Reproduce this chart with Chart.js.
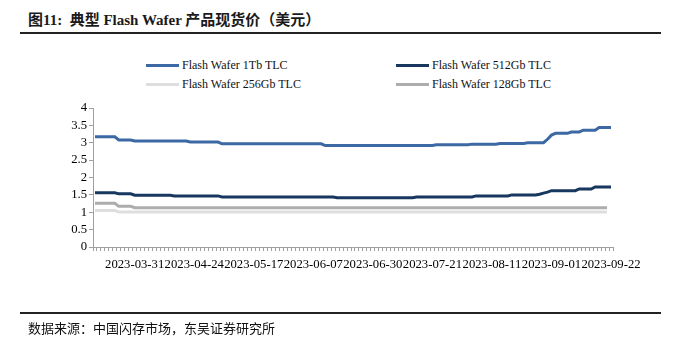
<!DOCTYPE html>
<html>
<head>
<meta charset="utf-8">
<script src="https://cdn.jsdelivr.net/npm/chart.js@4.4.0/dist/chart.umd.min.js"></script>
<style>
  html, body { margin: 0; padding: 0; background: #fff; }
  #wrap { position: relative; width: 675px; height: 343px; overflow: hidden; }
  #c { position: absolute; left: 0; top: 0; }
  .title { position: absolute; left: 28px; top: 8px; font: bold 15px "Liberation Serif", "Noto Sans CJK SC"; color: #1a1a1a; white-space: nowrap; }
  .rule { position: absolute; left: 20px; width: 641px; height: 2px; background: #222; }
  .src { position: absolute; left: 28px; top: 318px; font: 13px "Noto Sans CJK SC"; color: #111; white-space: nowrap; }
  .lg { position: absolute; font: 12px "Liberation Serif"; color: #111; white-space: nowrap; }
  .lg i { display: inline-block; width: 33px; height: 3px; vertical-align: middle; margin-right: 3px; position: relative; top: -1px; }
</style>
</head>
<body>
<div id="wrap">
  <div class="title">图11:&nbsp; 典型 Flash Wafer 产品现货价（美元）</div>
  <div class="rule" style="top:32px"></div>
  <div class="lg" style="left:146px; top:58px"><i style="background:#3C68A4"></i>Flash Wafer 1Tb TLC</div>
  <div class="lg" style="left:396px; top:58px"><i style="background:#17375E"></i>Flash Wafer 512Gb TLC</div>
  <div class="lg" style="left:146px; top:77px"><i style="background:#DEDEDE"></i>Flash Wafer 256Gb TLC</div>
  <div class="lg" style="left:396px; top:77px"><i style="background:#ADADAD"></i>Flash Wafer 128Gb TLC</div>
  <canvas id="c" width="675" height="343"></canvas>
  <div class="rule" style="top:312px"></div>
  <div class="src">数据来源：中国闪存市场，东吴证券研究所</div>
</div>
<script>
// trading days 2023-03-17 .. 2023-09-22 (China holidays off, 05-06 make-up day on)
var startDay = '2023-03-17';
var endDay = '2023-09-22';
var holidays = ['2023-04-05', '2023-05-01', '2023-05-02', '2023-05-03', '2023-06-22', '2023-06-23'];
var extraDays = ['2023-05-06'];

var days = [];
var d = new Date(startDay + 'T00:00:00Z');
var stop = new Date(endDay + 'T00:00:00Z');
while (d <= stop) {
	var s = d.toISOString().slice(0, 10);
	var wd = d.getUTCDay();
	if ((wd > 0 && wd < 6 && holidays.indexOf(s) < 0) || extraDays.indexOf(s) >= 0) days.push(s);
	d.setUTCDate(d.getUTCDate() + 1);
}

var yTicks = [0, 0.5, 1, 1.5, 2, 2.5, 3, 3.5, 4];

var tb1 = [
	3.17,3.17,3.17,3.17,3.17,3.17,
	3.08,3.08,3.08,3.08,
	3.05,3.05,3.05,3.05,3.05,3.05,3.05,3.05,3.05,3.05,3.05,3.05,3.05,3.05,
	3.02,3.02,3.02,3.02,3.02,3.02,3.02,3.02,
	2.97,2.97,2.97,2.97,2.97,2.97,2.97,2.97,2.97,2.97,2.97,2.97,2.97,2.97,2.97,2.97,2.97,2.97,2.97,2.97,2.97,2.97,2.97,2.97,2.97,2.97,
	2.92,2.92,2.92,2.92,2.92,2.92,2.92,2.92,2.92,2.92,2.92,2.92,2.92,2.92,2.92,2.92,2.92,2.92,2.92,2.92,2.92,2.92,2.92,2.92,2.92,2.92,2.92,2.92,
	2.94,2.94,2.94,2.94,2.94,2.94,2.94,2.94,2.94,
	2.96,2.96,2.96,2.96,2.96,2.96,2.96,
	2.98,2.98,2.98,2.98,2.98,2.98,2.98,
	3.00,3.00,3.00,3.00,3.00,
	3.10,3.22,
	3.27,3.27,3.27,3.27,
	3.31,3.31,3.31,
	3.36,3.36,3.36,3.36,
	3.44,3.44,3.44,3.44
];
var gb512 = [
	1.56,1.56,1.56,1.56,1.56,1.56,
	1.53,1.53,1.53,1.53,
	1.49,1.49,1.49,1.49,1.49,1.49,1.49,1.49,1.49,1.49,
	1.47,1.47,1.47,1.47,1.47,1.47,1.47,1.47,1.47,1.47,1.47,1.47,
	1.44,1.44,1.44,1.44,1.44,1.44,1.44,1.44,1.44,1.44,1.44,1.44,1.44,1.44,1.44,1.44,1.44,1.44,1.44,1.44,1.44,1.44,1.44,1.44,1.44,1.44,1.44,1.44,1.44,
	1.42,1.42,1.42,1.42,1.42,1.42,1.42,1.42,1.42,1.42,1.42,1.42,1.42,1.42,1.42,1.42,1.42,1.42,1.42,1.42,
	1.44,1.44,1.44,1.44,1.44,1.44,1.44,1.44,1.44,1.44,1.44,1.44,1.44,1.44,1.44,
	1.47,1.47,1.47,1.47,1.47,1.47,1.47,1.47,1.47,
	1.50,1.50,1.50,1.50,1.50,1.50,1.50,
	1.52,1.55,1.58,
	1.62,1.62,1.62,1.62,1.62,1.62,1.62,
	1.67,1.67,1.67,1.67,
	1.73,1.73,1.73,1.73,1.73
];
var gb256 = [
	1.05,1.05,1.05,1.05,1.05,1.05,
	1.01,1.01,1.01,1.01,1.01,1.01,1.01,1.01,1.01,1.01,1.01,1.01,1.01,1.01,1.01,1.01,1.01,1.01,1.01,1.01,1.01,1.01,1.01,1.01,
	1.01,1.01,1.01,1.01,1.01,1.01,1.01,1.01,1.01,1.01,1.01,1.01,1.01,1.01,1.01,1.01,1.01,1.01,1.01,1.01,1.01,1.01,1.01,1.01,1.01,
	1.01,1.01,1.01,1.01,1.01,1.01,1.01,1.01,1.01,1.01,1.01,1.01,1.01,1.01,1.01,1.01,1.01,1.01,1.01,1.01,1.01,1.01,1.01,1.01,1.01,
	1.01,1.01,1.01,1.01,1.01,1.01,1.01,1.01,1.01,1.01,1.01,1.01,1.01,1.01,1.01,1.01,1.01,1.01,1.01,1.01,1.01,1.01,1.01,1.01,1.01,
	1.01,1.01,1.01,1.01,1.01,1.01,1.01,1.01,1.01,1.01,1.01,1.01,1.01,1.01,1.01,1.01,1.01,1.01,1.01,1.01,1.01,1.01,1.01,1.01,1.01
];
var gb128 = [
	1.26,1.26,1.26,1.26,1.26,1.26,
	1.17,1.17,1.17,1.17,
	1.13,1.13,1.13,1.13,1.13,1.13,1.13,1.13,1.13,1.13,1.13,1.13,1.13,1.13,1.13,1.13,1.13,1.13,1.13,1.13,
	1.13,1.13,1.13,1.13,1.13,1.13,1.13,1.13,1.13,1.13,1.13,1.13,1.13,1.13,1.13,1.13,1.13,1.13,1.13,1.13,1.13,1.13,1.13,1.13,1.13,
	1.13,1.13,1.13,1.13,1.13,1.13,1.13,1.13,1.13,1.13,1.13,1.13,1.13,1.13,1.13,1.13,1.13,1.13,1.13,1.13,1.13,1.13,1.13,1.13,1.13,
	1.13,1.13,1.13,1.13,1.13,1.13,1.13,1.13,1.13,1.13,1.13,1.13,1.13,1.13,1.13,1.13,1.13,1.13,1.13,1.13,1.13,1.13,1.13,1.13,1.13,
	1.13,1.13,1.13,1.13,1.13,1.13,1.13,1.13,1.13,1.13,1.13,1.13,1.13,1.13,1.13,1.13,1.13,1.13,1.13,1.13,1.13,1.13,1.13,1.13,1.13
];

var firstLabel = 10;   // 2023-03-31
var labelStep = 15;

function line(label, data, color) {
	return {
		label: label,
		data: data,
		borderColor: color,
		backgroundColor: color,
		borderWidth: 3,
		pointRadius: 0,
		tension: 0,
		fill: false
	};
}

var axisColor = '#A0A0A0';
var tickFont = { family: 'Liberation Serif', size: 12.7 };

new Chart(document.getElementById('c'), {
	type: 'line',
	data: {
		labels: days,
		datasets: [
			line('Flash Wafer 256Gb TLC', gb256, '#DEDEDE'),
			line('Flash Wafer 128Gb TLC', gb128, '#ADADAD'),
			line('Flash Wafer 512Gb TLC', gb512, '#17375E'),
			line('Flash Wafer 1Tb TLC', tb1, '#3C68A4')
		]
	},
	options: {
		responsive: false,
		animation: false,
		layout: { padding: { left: 0, right: 62, top: 108, bottom: 66 } },
		plugins: { legend: { display: false }, tooltip: { enabled: false } },
		scales: {
			x: {
				offset: true,
				grid: { display: true, offset: true, drawOnChartArea: false, drawTicks: true, tickLength: 4, color: axisColor },
				border: { display: true, color: axisColor },
				afterFit: function(s) { s.height = 30; },
				ticks: {
					autoSkip: false,
					maxRotation: 0,
					minRotation: 0,
					padding: 6,
					color: '#000',
					font: tickFont,
					callback: function(v, i) {
						return (i >= firstLabel && (i - firstLabel) % labelStep === 0) ? this.getLabelForValue(v) : '';
					}
				}
			},
			y: {
				min: yTicks[0],
				max: yTicks[yTicks.length - 1],
				grid: { display: true, drawOnChartArea: false, drawTicks: true, tickLength: 4, color: axisColor },
				border: { display: true, color: axisColor },
				afterFit: function(s) { s.width = 93; },
				afterBuildTicks: function(s) { s.ticks = yTicks.map(function(v) { return { value: v }; }); },
				ticks: {
					autoSkip: false,
					padding: 2,
					color: '#000',
					font: tickFont,
					callback: function(v) { return String(v); }
				}
			}
		}
	}
});
</script>
</body>
</html>
